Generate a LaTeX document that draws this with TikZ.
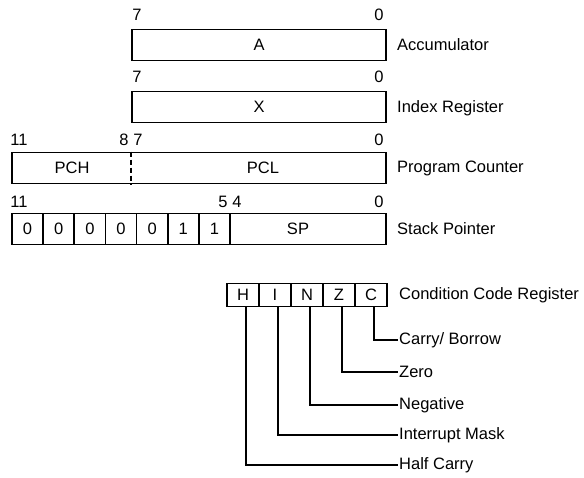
\documentclass[tikz,border=0pt]{standalone}
\usepackage{fontspec}
\setmainfont{Liberation Sans}
\begin{document}
\begin{tikzpicture}[x=1pt,y=-1pt,font=\fontsize{16.5}{20}\selectfont,
    reg/.style={draw,line width=1.8pt,minimum height=31pt,inner sep=0pt},
    flag/.style={draw,line width=1.8pt,minimum width=32pt,minimum height=23pt,inner sep=0pt},
    nm/.style={anchor=west,inner sep=1pt},
    lead/.style={line width=1.4pt}]
    \useasboundingbox (0,0) rectangle (584,477);

    \node (A) at (259,45) [reg,minimum width=254pt] {A};
    \node (X) at (259,107) [reg,minimum width=254pt] {X};
    \node (pc) at (199,168) [reg,minimum width=374pt] {};
    \node (pch) at (72,168) {PCH};
    \node (pcl) at (263,168) {PCL};
    \draw[line width=1.4pt,dash pattern=on 5pt off 3pt] (pc.north -| A.west) -- (pc.south -| A.west);

    \def\cw{31.14}
    \foreach \b [count=\i] in {0,0,0,0,0,1,1}{
      \node (s\i) at ({12+\cw*(\i-0.5)},229) [reg,minimum width=\cw pt] {\b};
    }
    \node (sp) at (308,229) [reg,minimum width=156pt] {};
    \node (spt) at (298,229) {SP};

    \node (a7) at (137,15) {7};
    \node (a0) at (379,15) {0};
    \node (x7) at (137,77) {7};
    \node (x0) at (379,77) {0};
    \node (p11) at (19,140) {11};
    \node (p8) at (124,140) {8};
    \node (p7) at (138,140) {7};
    \node (p0) at (379,140) {0};
    \node (s11) at (19,202) {11};
    \node (s5) at (223,202) {5};
    \node (s4) at (237,202) {4};
    \node (s0) at (379,202) {0};

    \node (acc) at (396,45) [nm] {Accumulator};
    \node (idx) at (396,108) [nm] {Index Register};
    \node (prc) at (396,168) [nm] {Program Counter};
    \node (stp) at (396,229) [nm] {Stack Pointer};

    \foreach \f [count=\i] in {H,I,N,Z,C}{
      \node (f\f) at ({227+32*(\i-0.5)},295) [flag] {\f};
    }
    \node (ccr) at (398,295) [nm] {Condition Code Register};

    \node (lC) at (398,340) [nm] {Carry/ Borrow};
    \node (lZ) at (398,372) [nm] {Zero};
    \node (lN) at (398,405) [nm] {Negative};
    \node (lI) at (398,435) [nm] {Interrupt Mask};
    \node (lH) at (398,465) [nm] {Half Carry};
    \foreach \f in {C,Z,N,I,H}{
      \draw[lead] ([xshift=3pt]f\f.south) -- ([xshift=3pt]f\f.south |- l\f.west) -- (l\f.west);
    }
\end{tikzpicture}
\end{document}
